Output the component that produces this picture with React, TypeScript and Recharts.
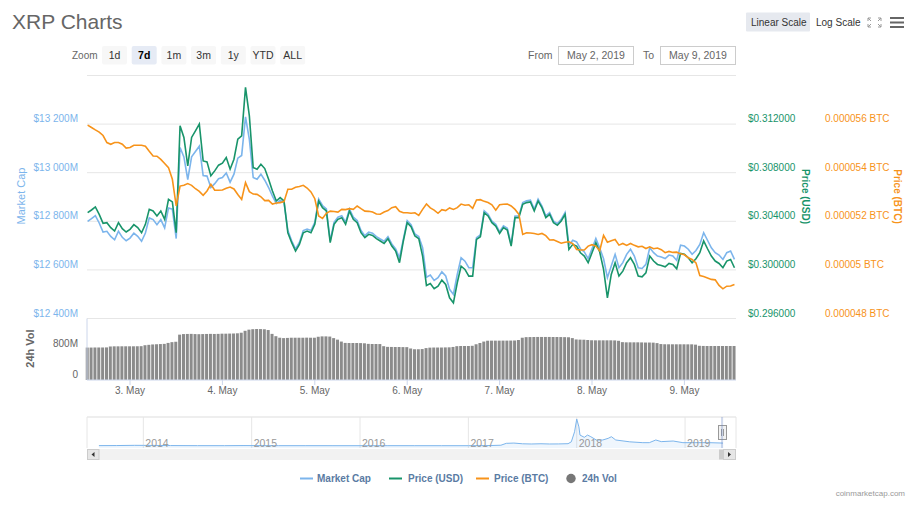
import { ComposedChart, Line, Bar, Area, XAxis, YAxis, CartesianGrid, ReferenceArea } from "recharts";

// hourly samples, hour 13 of 2 May 2019 onwards
const startHour = 13;

const marketCap = [
  12800, 12811, 12823, 12793, 12756, 12759, 12738, 12724, 12759, 12734, 12720, 12731, 12751, 12738, 12718, 12752,
  12814, 12807, 12786, 12807, 12773, 12855, 12850, 12729, 13104, 13065, 12972, 13065, 13087, 13109, 12988, 12986,
  12939, 12955, 12975, 12980, 12999, 12961, 12994, 13060, 13071, 13230, 13137, 12980, 12973, 12994, 12969, 12939,
  12904, 12873, 12887, 12877, 12762, 12720, 12686, 12713, 12762, 12768, 12762, 12796, 12892, 12865, 12851, 12720,
  12796, 12817, 12823, 12796, 12851, 12817, 12803, 12762, 12741, 12755, 12751, 12737, 12727, 12718, 12737, 12707,
  12686, 12650, 12727, 12803, 12786, 12748, 12737, 12691, 12570, 12579, 12557, 12568, 12592, 12575, 12520, 12499,
  12581, 12650, 12636, 12609, 12609, 12733, 12744, 12843, 12829, 12801, 12788, 12757, 12781, 12771, 12705, 12822,
  12822, 12877, 12884, 12887, 12850, 12891, 12863, 12822, 12836, 12801, 12790, 12808, 12836, 12701, 12722, 12715,
  12687, 12674, 12646, 12687, 12729, 12690, 12646, 12568, 12616, 12664, 12609, 12630, 12664, 12685, 12657, 12609,
  12606, 12623, 12691, 12671, 12657, 12653, 12647, 12661, 12657, 12639, 12702, 12698, 12685, 12664, 12680, 12705,
  12753, 12722, 12691, 12671, 12661, 12643, 12671, 12678, 12643,
];

const priceUsd = [
  0.30471, 0.30493, 0.30518, 0.30457, 0.30383, 0.30389, 0.30348, 0.3032, 0.30389, 0.30339, 0.30312, 0.30334,
  0.30372, 0.30348, 0.30306, 0.30375, 0.30499, 0.30485, 0.30444, 0.30485, 0.30416, 0.30581, 0.3056, 0.30306,
  0.31186, 0.3109, 0.30856, 0.3109, 0.31145, 0.312, 0.30897, 0.30889, 0.30774, 0.30815, 0.30862, 0.30878,
  0.30925, 0.30829, 0.30911, 0.31076, 0.31104, 0.31502, 0.31268, 0.30842, 0.30829, 0.3087, 0.30834, 0.30746,
  0.3065, 0.30567, 0.30595, 0.30567, 0.30306, 0.30224, 0.30155, 0.3021, 0.30306, 0.3032, 0.30306, 0.30375,
  0.30567, 0.30512, 0.30485, 0.30224, 0.30375, 0.30416, 0.3043, 0.30375, 0.30485, 0.30416, 0.30389, 0.30306,
  0.30265, 0.30293, 0.30284, 0.30257, 0.30238, 0.30218, 0.30257, 0.30196, 0.30155, 0.30059, 0.30238, 0.30389,
  0.30356, 0.30279, 0.30257, 0.30114, 0.29872, 0.29888, 0.29845, 0.29866, 0.29916, 0.2988, 0.2977, 0.29729,
  0.29894, 0.30031, 0.30004, 0.29949, 0.29949, 0.30251, 0.30273, 0.30471, 0.30444, 0.30389, 0.30361, 0.30301,
  0.30348, 0.30328, 0.30196, 0.3043, 0.3043, 0.3054, 0.30554, 0.30559, 0.30485, 0.30567, 0.30512, 0.3043,
  0.30457, 0.30389, 0.30367, 0.30403, 0.30457, 0.30169, 0.3021, 0.30196, 0.30141, 0.30114, 0.30059, 0.30141,
  0.30224, 0.30147, 0.30004, 0.2977, 0.29963, 0.30059, 0.29949, 0.2999, 0.30059, 0.301, 0.30045, 0.29949,
  0.29943, 0.29976, 0.30114, 0.30073, 0.30045, 0.30037, 0.30026, 0.30053, 0.30045, 0.30009, 0.30136, 0.30128,
  0.301, 0.30059, 0.30092, 0.30141, 0.30238, 0.30174, 0.30114, 0.30073, 0.30053, 0.30018, 0.30073, 0.30086,
  0.30018,
];

// price in satoshi (1e-8 BTC)
const priceBtcSat = [
  5596, 5586, 5576, 5567, 5553, 5524, 5517, 5524, 5524, 5517, 5501, 5504, 5513, 5513, 5513, 5509,
  5488, 5469, 5468, 5455, 5438, 5421, 5373, 5263, 5345, 5348, 5355, 5348, 5334, 5323, 5307, 5325,
  5352, 5328, 5328, 5329, 5336, 5341, 5333, 5310, 5290, 5359, 5322, 5312, 5311, 5301, 5285, 5286,
  5271, 5275, 5277, 5281, 5332, 5332, 5340, 5343, 5348, 5337, 5321, 5293, 5222, 5212, 5233, 5242,
  5240, 5238, 5249, 5248, 5252, 5249, 5263, 5252, 5242, 5241, 5238, 5230, 5229, 5238, 5244, 5256,
  5260, 5241, 5235, 5235, 5233, 5235, 5224, 5249, 5271, 5255, 5246, 5233, 5248, 5244, 5255, 5249,
  5256, 5271, 5266, 5268, 5253, 5288, 5289, 5282, 5277, 5268, 5246, 5268, 5270, 5271, 5263, 5249,
  5229, 5146, 5153, 5152, 5150, 5146, 5150, 5141, 5123, 5124, 5117, 5110, 5114, 5116, 5108, 5084,
  5082, 5082, 5098, 5104, 5098, 5079, 5142, 5114, 5120, 5125, 5102, 5109, 5101, 5109, 5101, 5095,
  5097, 5088, 5095, 5087, 5090, 5083, 5071, 5076, 5072, 5073, 5066, 5062, 5050, 5043, 5029, 4977,
  4973, 4967, 4961, 4959, 4936, 4922, 4933, 4934, 4940,
];

// 24h volume, millions USD
const volume24h = [
  844, 844, 846, 846, 846, 848, 872, 876, 876, 877, 877, 877, 877, 878, 880, 905,
  915, 925, 930, 935, 940, 965, 985, 995, 1180, 1195, 1198, 1200, 1195, 1192, 1195, 1198,
  1200, 1198, 1200, 1205, 1205, 1208, 1210, 1215, 1230, 1280, 1310, 1322, 1325, 1325, 1320, 1300,
  1200, 1140, 1100, 1090, 1095, 1100, 1100, 1100, 1100, 1102, 1100, 1100, 1125, 1135, 1135, 1130,
  1090, 1050, 1000, 965, 962, 962, 962, 960, 955, 940, 937, 937, 935, 880, 862, 860,
  858, 858, 856, 855, 820, 800, 800, 805, 830, 842, 845, 845, 845, 848, 850, 860,
  880, 885, 885, 885, 890, 930, 962, 1000, 1022, 1024, 1024, 1024, 1025, 1025, 1026, 1028,
  1040, 1100, 1115, 1117, 1118, 1120, 1120, 1120, 1120, 1118, 1118, 1117, 1115, 1112, 1090, 1055,
  1050, 1048, 1040, 1034, 1032, 1032, 1032, 1032, 1032, 1030, 1020, 985, 980, 980, 980, 980,
  978, 975, 975, 972, 960, 935, 930, 929, 929, 929, 929, 929, 928, 928, 920, 890,
  886, 885, 885, 885, 885, 885, 885, 885, 885,
];

const mcTicks = [12400, 12600, 12800, 13000, 13200, 13400];
const usdTicks = [0.296, 0.3, 0.304, 0.308, 0.312, 0.316];
const btcTicks = [4800, 5000, 5200, 5400, 5600, 5800];
const volTicks = [0, 800, 1600];
const dayTicks = [24, 48, 72, 96, 120, 144, 168];
const dayLabels = ["3. May", "4. May", "5. May", "6. May", "7. May", "8. May", "9. May"];

// navigator: whole history of market cap, billions USD
const navYear = [
  2013.59, 2013.75, 2013.92, 2014.0, 2014.25, 2014.5, 2014.75, 2014.92, 2015.25, 2015.5, 2015.75, 2016.0,
  2016.25, 2016.5, 2016.75, 2017.0, 2017.2, 2017.3, 2017.35, 2017.42, 2017.5, 2017.58, 2017.67, 2017.75,
  2017.83, 2017.92, 2017.95, 2017.98, 2018.0, 2018.02, 2018.03, 2018.07, 2018.1, 2018.13, 2018.18, 2018.24,
  2018.29, 2018.32, 2018.36, 2018.49, 2018.61, 2018.67, 2018.73, 2018.78, 2018.89, 2018.98, 2019.1, 2019.22,
  2019.35,
];
const navCap = [
  0.6, 0.9, 2.0, 1.8, 0.8, 0.4, 0.3, 0.8, 0.3, 0.3, 0.2, 0.2,
  0.3, 0.2, 0.2, 0.2, 1.0, 2.5, 11.7, 13, 9.5, 8.5, 9.7, 8.5,
  8.8, 10, 19, 68, 130, 92, 52, 41, 52, 44, 28, 28,
  36, 44, 28, 19, 15, 15, 28, 20, 23, 15, 15, 15,
  13,
];
const yearTicks = [2014, 2015, 2016, 2017, 2018, 2019];

const zoomButtons = ["1d", "7d", "1m", "3m", "1y", "YTD", "ALL"];

const BLUE = "#7cb5ec";
const GREEN = "#18946a";
const ORANGE = "#f7931a";

const rows = priceUsd.map((usd, i) => ({
  t: startHour + i,
  mc: marketCap[i],
  usd,
  btc: priceBtcSat[i],
  vol: volume24h[i],
}));

const navRows = navYear.map((y, i) => ({ y, v: navCap[i] }));

const fmtMc = (v: number) => `$${Math.floor(v / 1000)} ${String(v % 1000).padStart(3, "0")}M`;
const fmtUsd = (v: number) => `$${v.toFixed(6)}`;
const fmtBtc = (v: number) => `${parseFloat((v / 1e8).toFixed(8))} BTC`;

const makeTick = (fmt: (v: number) => string, fill: string, anchor: string, top: number) => (p: any) =>
  p.payload.value === top ? (
    <g />
  ) : (
    <text x={p.x} y={p.y - 2} textAnchor={anchor} fill={fill} fontSize={10}>
      {fmt(p.payload.value)}
    </text>
  );

const yearTick = (p: any) => (
  <text x={p.x + 2} y={p.y - 1.5} fill="#999" fontSize={10.5}>
    {p.payload.value}
  </text>
);

export default function App() {
  const font = '"Liberation Sans", Arial, sans-serif';
  return (
    <div style={{ position: "absolute", left: 0, top: 0, width: 916, height: 508, background: "#fff", fontFamily: font, overflow: "hidden" }}>
      <svg width={916} height={508} style={{ position: "absolute", left: 0, top: 0 }} fontFamily={font}>
        <text x={12} y={29} fontSize={21} fill="#666">XRP Charts</text>

        <text x={72} y={58.5} fontSize={10} fill="#666">Zoom</text>
        {zoomButtons.map((b, i) => {
          const x = 102 + i * 29.7;
          const sel = b === "7d";
          return (
            <g key={b}>
              <rect x={x} y={46} width={25} height={18.5} rx={2} fill={sel ? "#e6ebf5" : "#f7f7f7"} />
              <text x={x + 12.5} y={59} textAnchor="middle" fontSize={10.5} fontWeight={sel ? "bold" : "normal"} fill={sel ? "#000" : "#333"}>{b}</text>
            </g>
          );
        })}

        <text x={528} y={59} fontSize={10.5} fill="#666">From</text>
        <rect x={558.5} y={46.5} width={75} height={18} fill="#fff" stroke="#ccc" />
        <text x={596} y={59} textAnchor="middle" fontSize={10.5} fill="#666">May 2, 2019</text>
        <text x={643} y={59} fontSize={10.5} fill="#666">To</text>
        <rect x={660.5} y={46.5} width={75} height={18} fill="#fff" stroke="#ccc" />
        <text x={698} y={59} textAnchor="middle" fontSize={10.5} fill="#666">May 9, 2019</text>

        <rect x={746} y={12.5} width={64} height={19} rx={1} fill="#e6e9ef" />
        <text x={751} y={26} fontSize={10} fill="#333">Linear Scale</text>
        <text x={816} y={26} fontSize={10} fill="#333">Log Scale</text>
        <path d="M868,21 L868,18 L871,18 M868,18 L871,21 M881,21 L881,18 L878,18 M881,18 L878,21 M868,24 L868,27 L871,27 M868,27 L871,24 M881,24 L881,27 L878,27 M881,27 L878,24" stroke="#999" fill="none" />
        <rect x={890} y={17} width={14} height={2} fill="#666" />
        <rect x={890} y={21.5} width={14} height={2} fill="#666" />
        <rect x={890} y={26} width={14} height={2} fill="#666" />

        <text transform="translate(25,196) rotate(-90)" textAnchor="middle" fontSize={11} fill={BLUE}>Market Cap</text>
        <text transform="translate(802,196.5) rotate(90)" textAnchor="middle" fontSize={10} fontWeight="bold" fill={GREEN}>Price (USD)</text>
        <text transform="translate(893.5,196.5) rotate(90)" textAnchor="middle" fontSize={10} fontWeight="bold" fill={ORANGE}>Price (BTC)</text>
        <text transform="translate(33.5,348.5) rotate(-90)" textAnchor="middle" fontSize={11} fontWeight="bold" fill="#666">24h Vol</text>

        <line x1={87} x2={736} y1={417} y2={417} stroke="#ddd" />
        <rect x={87} y={449} width={649} height={11} fill="#f2f2f2" />
        <rect x={87.5} y={449.5} width={11.5} height={10} fill="#e6e6e6" stroke="#ccc" />
        <path d="M94.5,452 L91.5,454.5 L94.5,457 Z" fill="#333" />
        <rect x={719} y={449.5} width={4} height={10} fill="#ccc" />
        <rect x={723.5} y={449.5} width={12} height={10} fill="#e6e6e6" stroke="#ccc" />
        <path d="M728,452 L731,454.5 L728,457 Z" fill="#333" />
        <rect x={718.5} y={425.5} width={8} height={14} fill="#f2f2f2" stroke="#999" />
        <line x1={721.5} x2={721.5} y1={429} y2={436} stroke="#999" />
        <line x1={723.5} x2={723.5} y1={429} y2={436} stroke="#999" />

        <line x1={300} x2={313} y1={478.5} y2={478.5} stroke={BLUE} strokeWidth={2} />
        <text x={317} y={482} fontSize={10} fontWeight="bold" fill="#5a7ba3">Market Cap</text>
        <line x1={389} x2={402} y1={478.5} y2={478.5} stroke={GREEN} strokeWidth={2} />
        <text x={408} y={482} fontSize={10} fontWeight="bold" fill="#5a7ba3">Price (USD)</text>
        <line x1={476} x2={489} y1={478.5} y2={478.5} stroke={ORANGE} strokeWidth={2} />
        <text x={494} y={482} fontSize={10} fontWeight="bold" fill="#5a7ba3">Price (BTC)</text>
        <circle cx={571} cy={478.5} r={4.7} fill="#777" />
        <text x={582} y={482} fontSize={10} fontWeight="bold" fill="#5a7ba3">24h Vol</text>

        <text x={905} y={496} textAnchor="end" fontSize={8} fill="#999">coinmarketcap.com</text>
      </svg>

      {/* price pane */}
      <div style={{ position: "absolute", left: 0, top: 0 }}>
        <ComposedChart width={916} height={330} data={rows} margin={{ top: 75.5, right: 10, bottom: 11.5, left: 27 }}>
          <CartesianGrid yAxisId="r1" vertical={false} stroke="#e6e6e6" />
          <XAxis dataKey="t" type="number" domain={[12.83, 181.4]} hide />
          <YAxis yAxisId="l1" orientation="left" domain={[12400, 13400]} ticks={mcTicks} interval={0} width={60}
            axisLine={false} tickLine={false} tickSize={0} tickMargin={9} tick={makeTick(fmtMc, BLUE, "end", 13400)} />
          <YAxis yAxisId="r1" orientation="right" domain={[0.296, 0.316]} ticks={usdTicks} interval={0} width={79}
            axisLine={false} tickLine={false} tickSize={0} tickMargin={12} tick={makeTick(fmtUsd, GREEN, "start", 0.316)} />
          <YAxis yAxisId="r2" orientation="right" domain={[4800, 5800]} ticks={btcTicks} interval={0} width={91}
            axisLine={false} tickLine={false} tickSize={0} tickMargin={10} tick={makeTick(fmtBtc, ORANGE, "start", 5800)} />
          <Line yAxisId="l1" dataKey="mc" stroke={BLUE} strokeWidth={1.6} dot={false} isAnimationActive={false} />
          <Line yAxisId="r1" dataKey="usd" stroke={GREEN} strokeWidth={1.6} dot={false} isAnimationActive={false} />
          <Line yAxisId="r2" dataKey="btc" stroke={ORANGE} strokeWidth={1.6} dot={false} isAnimationActive={false} />
        </ComposedChart>
      </div>

      {/* volume pane */}
      <div style={{ position: "absolute", left: 0, top: 300 }}>
        <ComposedChart width={916} height={110} data={rows} margin={{ top: 18.5, right: 180, bottom: 6, left: 27 }}>
          <XAxis dataKey="t" type="number" domain={[12.83, 181.4]} ticks={dayTicks} interval={0} height={24}
            axisLine={{ stroke: "#ccd6eb" }} tickLine={{ stroke: "#ccd6eb" }} tickSize={5}
            tick={{ fill: "#666", fontSize: 10 }} tickFormatter={(v: number) => dayLabels[dayTicks.indexOf(v)]} />
          <YAxis domain={[0, 1600]} ticks={volTicks} interval={0} width={60} axisLine={{ stroke: "#ccd6eb" }}
            tickLine={false} tickSize={0} tickMargin={9}
            tick={makeTick((v) => (v === 0 ? "0" : `${v}M`), "#666", "end", 1600)} />
          <Bar dataKey="vol" fill="#8b8b8b" barSize={3} isAnimationActive={false} />
        </ComposedChart>
      </div>

      {/* navigator */}
      <div style={{ position: "absolute", left: 0, top: 410 }}>
        <ComposedChart width={916} height={55} data={navRows} margin={{ top: 7, right: 180, bottom: 0, left: 87 }}>
          <CartesianGrid horizontal={false} stroke="#e6e6e6" />
          <XAxis dataKey="y" type="number" domain={[2013.48, 2019.47]} ticks={yearTicks} interval={0} height={17}
            axisLine={false} tickLine={false} tickSize={0} tickMargin={0} tick={yearTick} />
          <YAxis domain={[-11, 140]} hide />
          <Area dataKey="v" type="linear" stroke={BLUE} strokeWidth={1} fill={BLUE} fillOpacity={0.12}
            baseValue="dataMin" dot={false} isAnimationActive={false} />
          <ReferenceArea x1={2019.332} x2={2019.351} fill="rgb(102,133,194)" fillOpacity={0.3} strokeOpacity={0} />
        </ComposedChart>
      </div>
    </div>
  );
}
